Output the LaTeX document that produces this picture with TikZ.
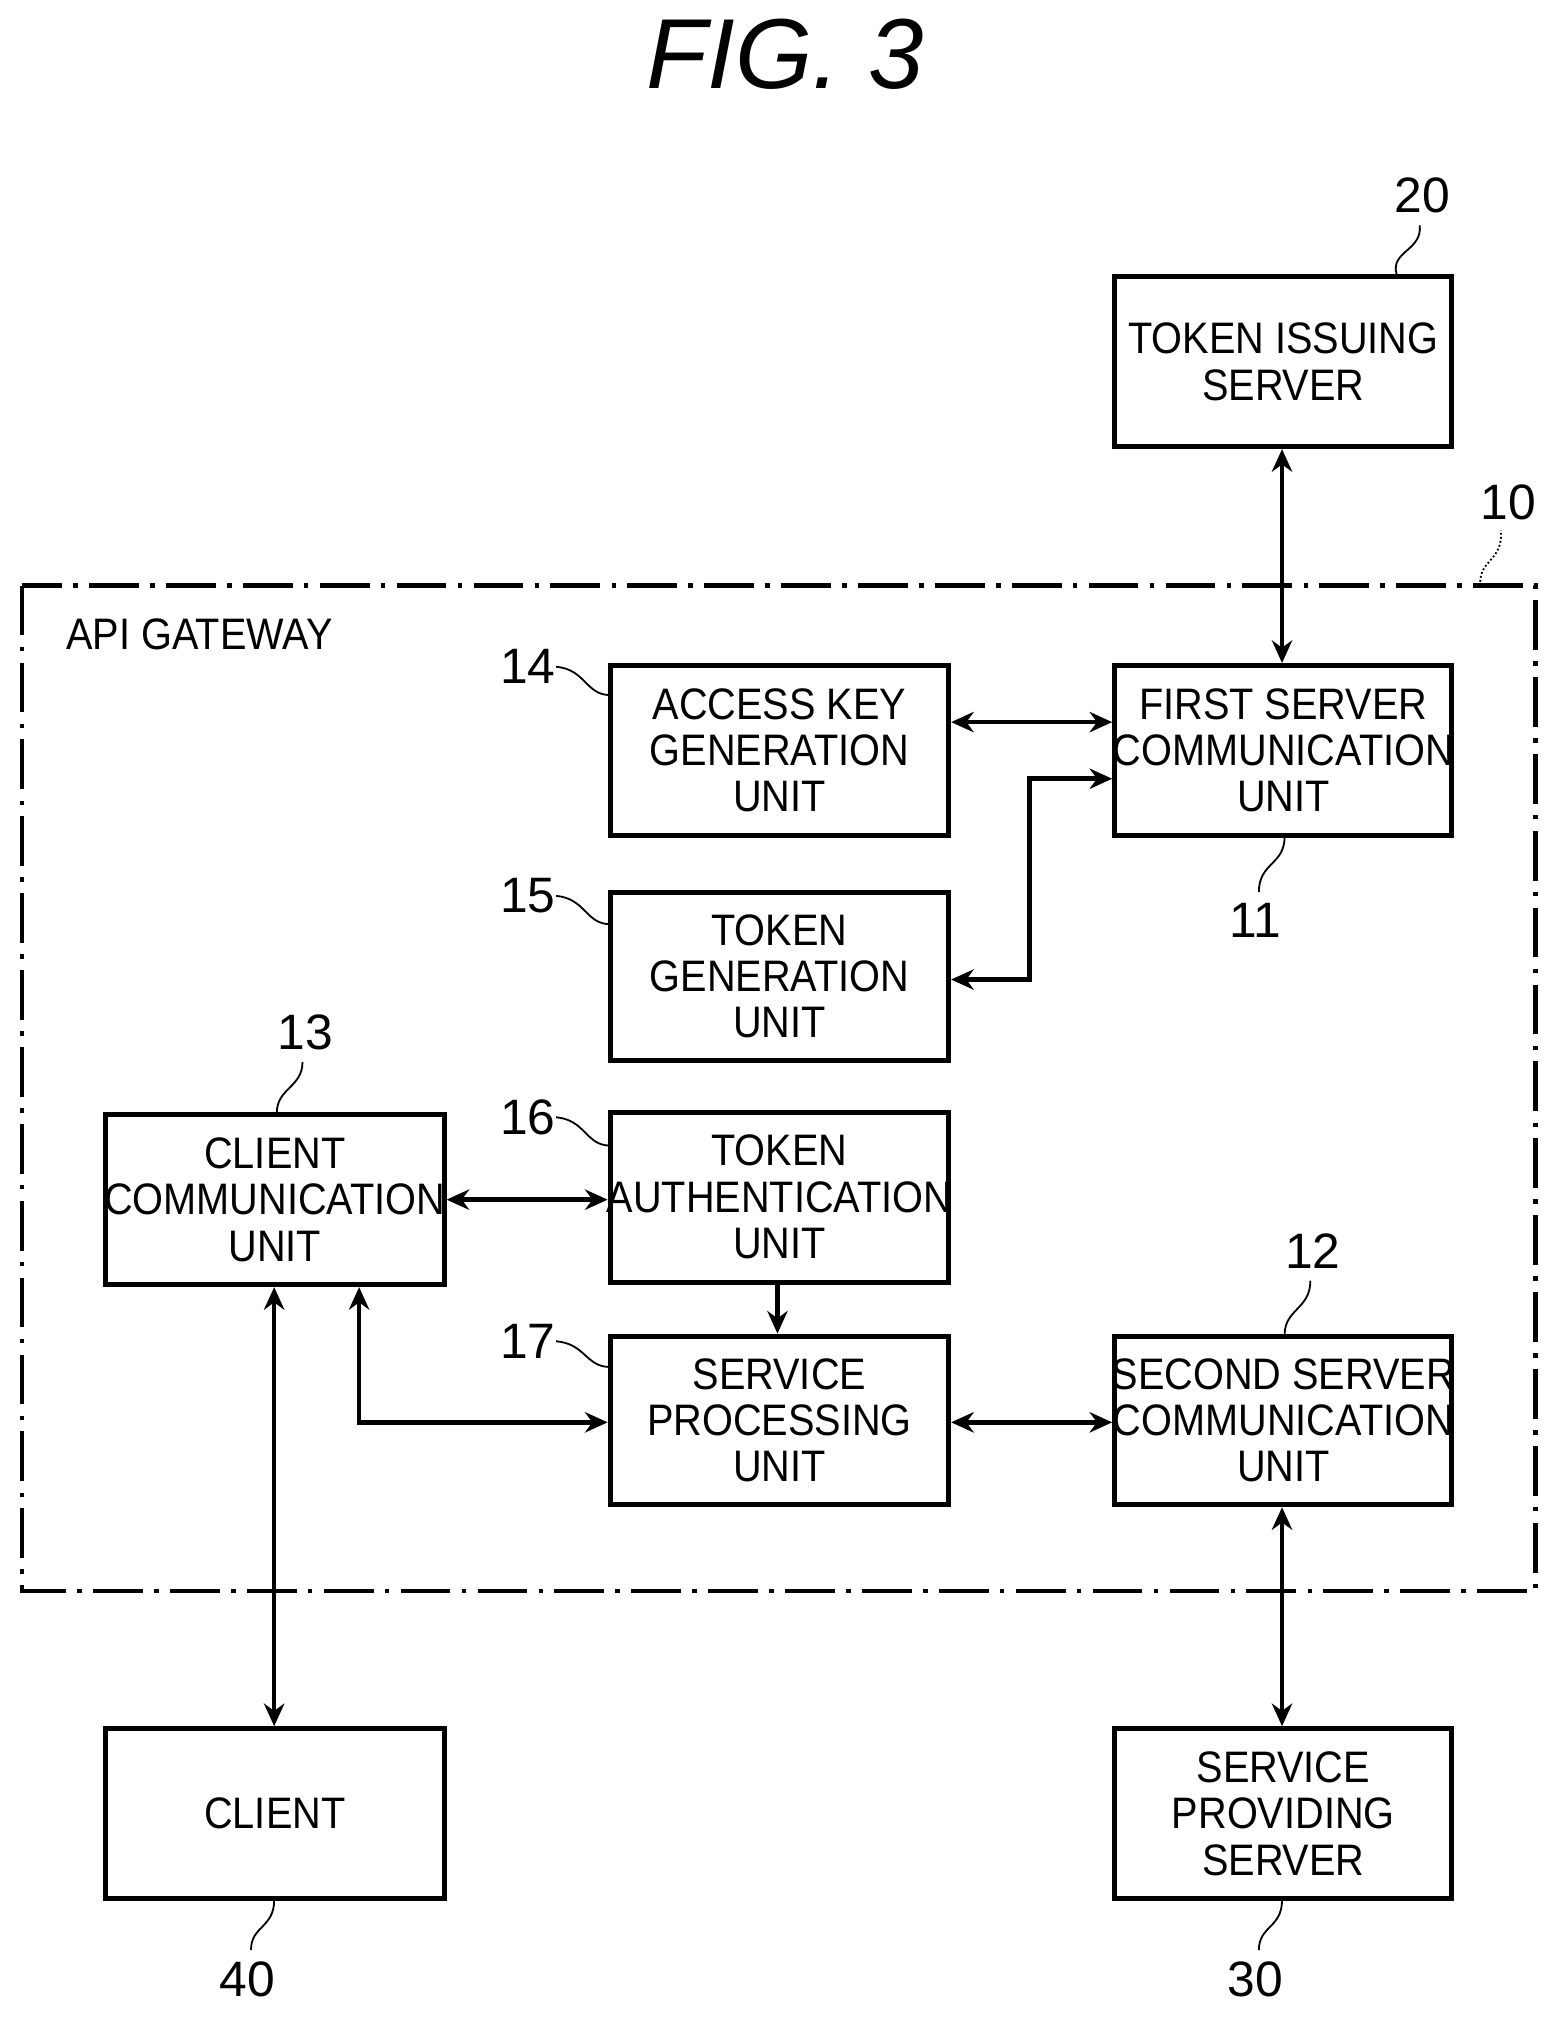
\documentclass[tikz,border=0pt]{standalone}
\usepackage{fontspec}
\setmainfont{Liberation Sans}
\usetikzlibrary{fit,arrows.meta}
\begin{document}
\begin{tikzpicture}[x=0.02cm,y=-0.02cm,
 box/.style={draw,line width=2.2pt,inner sep=0pt},
 txt/.style={align=center,font=\fontsize{19.5}{20.5}\selectfont,xscale=0.9},
 arr/.style={line width=2pt,{Stealth[length=10pt,width=9pt]}-{Stealth[length=10pt,width=9pt]}},
 one/.style={line width=2pt,-{Stealth[length=10pt,width=9pt]}},
 num/.style={font=\fontsize{22}{24}\selectfont},
 lead/.style={line width=0.8pt}]
\useasboundingbox (0,0) rectangle (1210,1567);
\node[font=\itshape\fontsize{44}{48}\selectfont] (title) at (610,42) {FIG. 3};
\draw[line width=2pt,dash pattern=on 22pt off 5pt on 2pt off 5pt] (17,455) rectangle (1193,1236);
\node[font=\fontsize{19.5}{21}\selectfont,xscale=0.9,anchor=west] (api) at (46,493) {API GATEWAY};
\node[box,fit={(866,215)(1128,347)}] (n20) {};
\node[box,fit={(474,517)(737,649)}] (n14) {};
\node[box,fit={(866,517)(1128,649)}] (n11) {};
\node[box,fit={(474,693)(737,824)}] (n15) {};
\node[box,fit={(82,866)(345,998)}] (n13) {};
\node[box,fit={(474,864)(737,996)}] (n16) {};
\node[box,fit={(474,1038)(737,1169)}] (n17) {};
\node[box,fit={(866,1038)(1128,1169)}] (n12) {};
\node[box,fit={(82,1343)(345,1475)}] (n40) {};
\node[box,fit={(866,1343)(1128,1475)}] (n30) {};
\node[txt] (t20) at (n20) {TOKEN ISSUING\\SERVER};
\node[txt] (t14) at (n14) {ACCESS KEY\\GENERATION\\UNIT};
\node[txt] (t11) at (n11) {FIRST SERVER\\COMMUNICATION\\UNIT};
\node[txt] (t15) at (n15) {TOKEN\\GENERATION\\UNIT};
\node[txt] (t13) at (n13) {CLIENT\\COMMUNICATION\\UNIT};
\node[txt] (t16) at (n16) {TOKEN\\AUTHENTICATION\\UNIT};
\node[txt] (t17) at (n17) {SERVICE\\PROCESSING\\UNIT};
\node[txt] (t12) at (n12) {SECOND SERVER\\COMMUNICATION\\UNIT};
\node[txt] (t40) at (n40) {CLIENT};
\node[txt] (t30) at (n30) {SERVICE\\PROVIDING\\SERVER};
\draw[arr] (n20.south -| 996,0) -- (n11.north -| 996,0);
\draw[arr] (n14.east |- 0,561) -- (n11.west |- 0,561);
\draw[arr] (n15.east |- 0,761) -- (800,761) -- (800,605) -- (n11.west |- 0,605);
\draw[arr] (n13.east |- 0,932) -- (n16.west |- 0,932);
\draw[one] (n16.south -| 604,0) -- (n17.north -| 604,0);
\draw[arr] (n13.south -| 279,0) -- (279,1105) -- (n17.west |- 0,1105);
\draw[arr] (n17.east |- 0,1105) -- (n12.west |- 0,1105);
\draw[arr] (n13.south -| 213,0) -- (n40.north -| 213,0);
\draw[arr] (n12.south -| 996,0) -- (n30.north -| 996,0);
% labels
\node[num] (l20) at (1105,152) {20};
\draw[lead] (1085,213) .. controls (1080,195) and (1105,195) .. (1103,175);
\node[num] (l10) at (1172,390) {10};
\draw[lead,densely dotted] (1150,452) .. controls (1150,435) and (1168,435) .. (1166,412);
\node[num] (l14) at (410,518) {14};
\draw[lead] (474,540) .. controls (455,540) and (455,520) .. (432,518);
\node[num] (l15) at (410,696) {15};
\draw[lead] (474,718) .. controls (455,718) and (455,698) .. (432,696);
\node[num] (l16) at (410,868) {16};
\draw[lead] (474,890) .. controls (455,890) and (455,870) .. (432,868);
\node[num] (l17) at (410,1042) {17};
\draw[lead] (474,1062) .. controls (455,1062) and (455,1044) .. (432,1042);
\node[num] (l11) at (975,715) {11};
\draw[lead] (998,650) .. controls (998,672) and (978,670) .. (978,693);
\node[num] (l13) at (237,802) {13};
\draw[lead] (215,865) .. controls (215,845) and (235,845) .. (235,825);
\node[num] (l12) at (1020,972) {12};
\draw[lead] (998,1037) .. controls (998,1017) and (1018,1017) .. (1018,995);
\node[num] (l40) at (192,1538) {40};
\draw[lead] (213,1476) .. controls (213,1498) and (195,1496) .. (195,1515);
\node[num] (l30) at (975,1538) {30};
\draw[lead] (996,1476) .. controls (996,1498) and (978,1496) .. (978,1515);
\end{tikzpicture}
\end{document}
